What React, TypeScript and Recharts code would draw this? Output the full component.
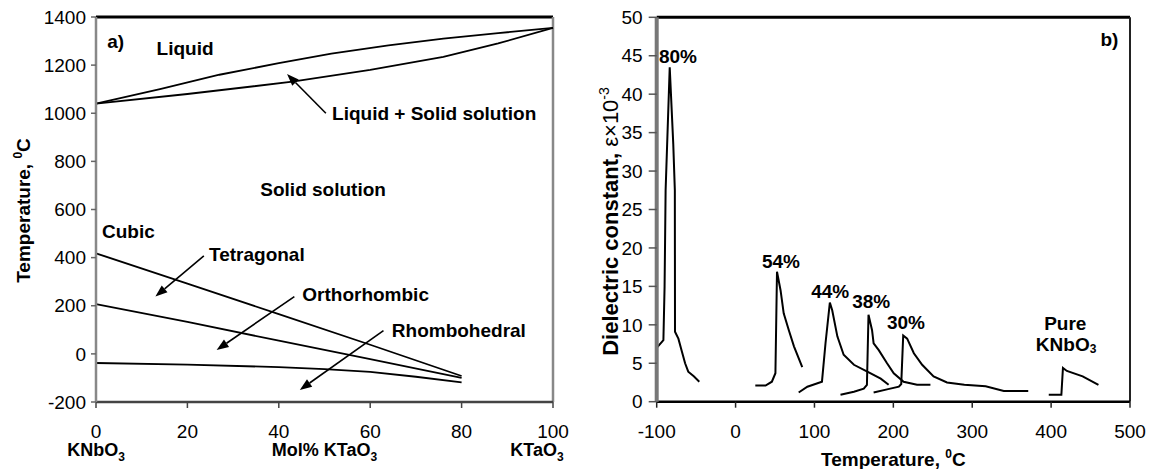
import React from 'react';
import { LineChart, Line, XAxis, YAxis, ReferenceLine, ReferenceDot } from 'recharts';

const FONT = '"Liberation Sans", Arial, Helvetica, sans-serif';

// ---------- Left panel: phase diagram (mol% KTaO3 vs temperature) ----------
const molTicks = [0, 20, 40, 60, 80, 100];
const tempTicks = [-200, 0, 200, 400, 600, 800, 1000, 1200, 1400];

const liquidusMol = [0, 14, 27, 40, 51.5, 64, 76, 88, 100];
const liquidusT = [1040, 1100, 1160, 1208, 1248, 1282, 1310, 1333, 1355];

const solidusMol = [0, 20, 43, 60, 76, 88, 100];
const solidusT = [1040, 1080, 1131, 1180, 1234, 1290, 1355];

const cubicTetMol = [0, 20, 40, 60, 80];
const cubicTetT = [418, 292, 165, 38, -92];

const tetOrthoMol = [0, 20, 40, 60, 80];
const tetOrthoT = [207, 133, 55, -22, -100];

const orthoRhomboMol = [0, 20, 40, 50, 60, 70, 80];
const orthoRhomboT = [-38, -45, -55, -63, -75, -95, -118];

const leftNotes = [
  { text: 'a)', x: 4.3, y: 1297 },
  { text: 'Liquid', x: 19.5, y: 1269 },
  { text: 'Liquid + Solid solution', x: 74, y: 1000 },
  { text: 'Solid solution', x: 49.7, y: 683 },
  { text: 'Cubic', x: 7.1, y: 510 },
  { text: 'Tetragonal', x: 35.2, y: 413 },
  { text: 'Orthorhombic', x: 59, y: 245 },
  { text: 'Rhombohedral', x: 79.4, y: 97 },
];

const leftArrows = [
  { x1: 50.3, y1: 1000, x2: 41.8, y2: 1163 },
  { x1: 23.6, y1: 407, x2: 13, y2: 238 },
  { x1: 43.4, y1: 238, x2: 26.4, y2: 16 },
  { x1: 62.9, y1: 97, x2: 44.6, y2: -150 },
];

// ---------- Right panel: dielectric constant vs temperature ----------
const tTicks = [-100, 0, 100, 200, 300, 400, 500];
const epsTicks = [0, 5, 10, 15, 20, 25, 30, 35, 40, 45, 50];

const c80T = [-100, -91.5, -90, -88.7, -83.5, -79, -77, -76.8, -72.5, -68, -64, -60, -53, -46];
const c80E = [7, 8, 15, 27.5, 43.5, 33.5, 27.5, 9.1, 8.2, 6.5, 5, 3.9, 3.3, 2.6];

const c54T = [25, 38, 46, 50.5, 52.5, 57, 61, 67.5, 74, 84.5];
const c54E = [2.1, 2.1, 2.6, 3.7, 16.9, 14.5, 11.5, 9.3, 7.2, 4.5];

const c44T = [80, 91, 109.5, 114, 119.5, 122.5, 129, 137, 150, 167, 184, 194];
const c44E = [1.2, 1.95, 2.6, 7.6, 12.9, 11.9, 8.5, 6.1, 4.8, 3.9, 3.0, 2.2];

const c38T = [133, 150, 162.5, 166.5, 168.5, 173, 175, 181.5, 192, 200.5, 213, 230, 247];
const c38E = [0.9, 1.3, 1.7, 2.2, 11.3, 9.3, 7.6, 6.7, 5.0, 3.7, 2.6, 2.2, 2.2];

const c30T = [175, 192, 207, 210, 212.5, 217.5, 226, 236.5, 251, 268, 290, 317, 340, 371];
const c30E = [1.2, 1.6, 1.95, 2.3, 8.6, 8.2, 6.3, 4.8, 3.3, 2.5, 2.2, 2.0, 1.4, 1.4];

const pureT = [397, 413, 415, 420, 440, 460];
const pureE = [0.9, 0.9, 4.4, 4.0, 3.3, 2.2];

const rightNotes = [
  { text: 'b)', x: 474, y: 47.1 },
  { text: '80%', x: -73, y: 44.9 },
  { text: '54%', x: 57.5, y: 18.2 },
  { text: '44%', x: 120, y: 14.3 },
  { text: '38%', x: 172, y: 13.0 },
  { text: '30%', x: 216, y: 10.3 },
  { text: 'Pure', x: 418, y: 10.2 },
  { text: 'KNbO|3', x: 419, y: 7.5 },
];

const zip = (xs: number[], ys: number[]) => xs.map((x, i) => ({ x, y: ys[i] }));

const renderChem = (t: string) => {
  const parts = t.split('|');
  if (parts.length === 1) return t;
  return (
    <>
      {parts[0]}
      <tspan dy={5} fontSize={12}>{parts[1]}</tspan>
    </>
  );
};

const noteShape = (text: string) => (p: any) => (
  <text
    x={p.cx}
    y={p.cy}
    textAnchor="middle"
    dominantBaseline="central"
    fontSize={19}
    fontWeight="bold"
    fill="#000"
    fontFamily={FONT}
  >
    {renderChem(text)}
  </text>
);

const arrowShape = (p: any) => {
  const { x1, y1, x2, y2 } = p;
  const dx = x2 - x1;
  const dy = y2 - y1;
  const len = Math.hypot(dx, dy) || 1;
  const ux = dx / len;
  const uy = dy / len;
  const L = 12;
  const W = 4.5;
  const bx = x2 - ux * L;
  const by = y2 - uy * L;
  const pts = `${x2},${y2} ${bx - uy * W},${by + ux * W} ${bx + uy * W},${by - ux * W}`;
  return (
    <g>
      <line x1={x1} y1={y1} x2={bx} y2={by} stroke="#000" strokeWidth={1.6} />
      <polygon points={pts} fill="#000" />
    </g>
  );
};

const subLabels: Record<number, { t: string; dx: number }> = {
  0: { t: 'KNbO|3', dx: 0 },
  100: { t: 'KTaO|3', dx: -16 },
};

const LeftXTick = (p: any) => {
  const { x, y, payload } = p;
  const sub = subLabels[payload.value];
  return (
    <g>
      <text x={x} y={y} dy={13} textAnchor="middle" fontSize={19} fill="#000" fontFamily={FONT}>
        {payload.value}
      </text>
      {sub && (
        <text
          x={x + sub.dx}
          y={y + 31}
          textAnchor="middle"
          fontSize={18}
          fontWeight="bold"
          fill="#000"
          fontFamily={FONT}
        >
          {renderChem(sub.t)}
        </text>
      )}
    </g>
  );
};

const leftXLabel = (p: any) => {
  const vb = p.viewBox;
  return (
    <text
      x={vb.x + vb.width / 2}
      y={vb.y + 54}
      textAnchor="middle"
      fontSize={18}
      fontWeight="bold"
      fill="#000"
      fontFamily={FONT}
    >
      Mol% KTaO<tspan dy={5} fontSize={12}>3</tspan>
    </text>
  );
};

const rightXLabel = (p: any) => {
  const vb = p.viewBox;
  return (
    <text
      x={vb.x + vb.width / 2}
      y={vb.y + 64}
      textAnchor="middle"
      fontSize={19}
      fontWeight="bold"
      fill="#000"
      fontFamily={FONT}
    >
      Temperature, <tspan dy={-8} fontSize={12}>0</tspan>
      <tspan dy={8}>C</tspan>
    </text>
  );
};

const leftYLabel = (p: any) => {
  const vb = p.viewBox;
  const cx = 30;
  const cy = vb.y + vb.height / 2 + 1;
  return (
    <text
      transform={`rotate(-90, ${cx}, ${cy})`}
      x={cx}
      y={cy}
      textAnchor="middle"
      fontSize={19}
      fontWeight="bold"
      fill="#000"
      fontFamily={FONT}
    >
      Temperature, <tspan dy={-8} fontSize={12}>0</tspan>
      <tspan dy={8}>C</tspan>
    </text>
  );
};

const rightYLabel = (p: any) => {
  const vb = p.viewBox;
  const cx = 38;
  const cy = vb.y + vb.height / 2 + 12;
  return (
    <text
      transform={`rotate(-90, ${cx}, ${cy})`}
      x={cx}
      y={cy}
      textAnchor="middle"
      fontSize={22}
      fontWeight="bold"
      fill="#000"
      fontFamily={FONT}
    >
      Dielectric constant, <tspan fontWeight="normal">ε×10</tspan>
      <tspan dy={-9} fontSize={14} fontWeight="normal">-3</tspan>
    </text>
  );
};

const tickStyle = { fontSize: 19, fill: '#000', fontFamily: FONT };

export default function App() {
  const leftSeries = [
    zip(liquidusMol, liquidusT),
    zip(solidusMol, solidusT),
    zip(cubicTetMol, cubicTetT),
    zip(tetOrthoMol, tetOrthoT),
    zip(orthoRhomboMol, orthoRhomboT),
  ];
  const rightSeries = [
    zip(c80T, c80E),
    zip(c54T, c54E),
    zip(c44T, c44E),
    zip(c38T, c38E),
    zip(c30T, c30E),
    zip(pureT, pureE),
  ];

  return (
    <div
      style={{
        position: 'absolute',
        left: 0,
        top: 0,
        width: 1149,
        height: 469,
        background: '#fff',
        fontFamily: FONT,
        overflow: 'hidden',
      }}
    >
      <div style={{ position: 'absolute', left: 0, top: 0 }}>
        <LineChart width={580} height={469} margin={{ top: 17, right: 27, bottom: 27, left: 26 }}>
          <XAxis
            dataKey="x"
            type="number"
            domain={[0, 100]}
            ticks={molTicks}
            height={40}
            tickSize={6}
            tickMargin={17}
            tick={<LeftXTick />}
            axisLine={{ stroke: '#444', strokeWidth: 2.5 }}
            tickLine={{ stroke: '#444', strokeWidth: 1.5 }}
            label={{ content: leftXLabel }}
          />
          <YAxis
            type="number"
            domain={[-200, 1400]}
            ticks={tempTicks}
            width={70}
            tickSize={5}
            tickMargin={5}
            tick={tickStyle}
            axisLine={{ stroke: '#888', strokeWidth: 2.5 }}
            tickLine={{ stroke: '#666', strokeWidth: 1.5 }}
            label={{ content: leftYLabel }}
          />
          <ReferenceLine y={1400} stroke="#000" strokeWidth={3} ifOverflow="visible" />
          <ReferenceLine x={100} stroke="#888" strokeWidth={2.5} ifOverflow="visible" />
          {leftSeries.map((d, i) => (
            <Line
              key={'l' + i}
              data={d}
              dataKey="y"
              type="linear"
              stroke="#000"
              strokeWidth={1.8}
              dot={false}
              isAnimationActive={false}
            />
          ))}
          {leftArrows.map((a, i) => (
            <ReferenceLine
              key={'a' + i}
              segment={[
                { x: a.x1, y: a.y1 },
                { x: a.x2, y: a.y2 },
              ]}
              ifOverflow="visible"
              shape={arrowShape}
            />
          ))}
          {leftNotes.map((n, i) => (
            <ReferenceDot key={'n' + i} x={n.x} y={n.y} r={1} ifOverflow="visible" shape={noteShape(n.text)} />
          ))}
        </LineChart>
      </div>
      <div style={{ position: 'absolute', left: 580, top: 0 }}>
        <LineChart width={569} height={469} margin={{ top: 17.3, right: 19, bottom: 27, left: 16.7 }}>
          <XAxis
            dataKey="x"
            type="number"
            domain={[-100, 500]}
            ticks={tTicks}
            height={40.3}
            tickSize={6}
            tickMargin={17}
            tick={tickStyle}
            axisLine={{ stroke: '#000', strokeWidth: 2.5 }}
            tickLine={{ stroke: '#222', strokeWidth: 1.5 }}
            label={{ content: rightXLabel }}
          />
          <YAxis
            type="number"
            domain={[0, 50]}
            ticks={epsTicks}
            width={60}
            tickSize={8}
            tickMargin={6}
            tick={tickStyle}
            axisLine={{ stroke: '#777', strokeWidth: 4 }}
            tickLine={{ stroke: '#555', strokeWidth: 1.5 }}
            label={{ content: rightYLabel }}
          />
          <ReferenceLine y={50} stroke="#000" strokeWidth={3} ifOverflow="visible" />
          <ReferenceLine x={500} stroke="#222" strokeWidth={2} ifOverflow="visible" />
          {rightSeries.map((d, i) => (
            <Line
              key={'r' + i}
              data={d}
              dataKey="y"
              type="linear"
              stroke="#000"
              strokeWidth={2}
              dot={false}
              isAnimationActive={false}
            />
          ))}
          {rightNotes.map((n, i) => (
            <ReferenceDot key={'rn' + i} x={n.x} y={n.y} r={1} ifOverflow="visible" shape={noteShape(n.text)} />
          ))}
        </LineChart>
      </div>
    </div>
  );
}
